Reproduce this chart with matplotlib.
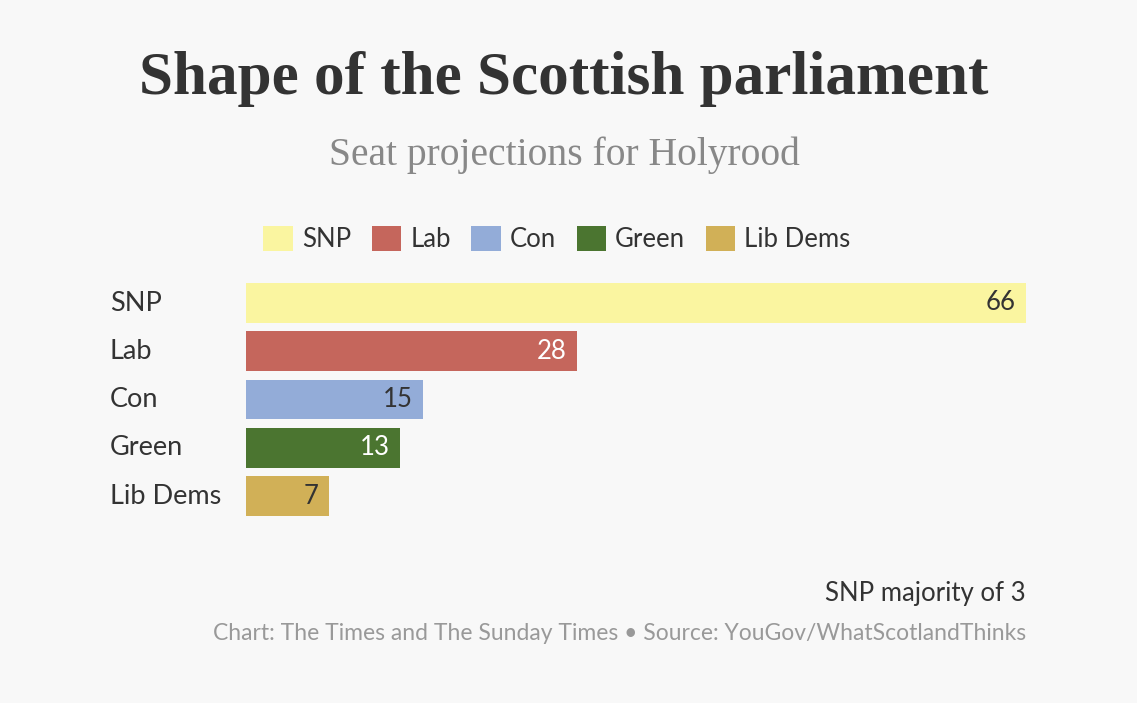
import matplotlib.pyplot as plt

parties = ["SNP", "Lab", "Con", "Green", "Lib Dems"]
seats = [66, 28, 15, 13, 7]
colours = ["#faf5a0", "#c5665c", "#93acd8", "#4b7530", "#d1b057"]
label_colours = ["#333333", "white", "#333333", "white", "#333333"]

bg = "#f8f8f8"
sans = ["Lato", "DejaVu Sans"]
serif = ["Liberation Serif", "DejaVu Serif"]

fig = plt.figure(figsize=(11.37, 7.03), dpi=100, facecolor=bg)
ax = fig.add_axes([246 / 1137, 0.2663, 780 / 1137, 0.3309])
ax.set_facecolor(bg)

bars = ax.barh(range(len(parties)), seats, height=0.82, color=colours)
ax.set_xlim(0, 66)
ax.set_ylim(4.41, -0.41)

for i, (v, c) in enumerate(zip(seats, label_colours)):
    ax.text(v - 0.85, i, str(v), ha="right", va="center", color=c,
            fontsize=18.5, family=sans)

for i, p in enumerate(parties):
    fig.text(110 / 1137, 1 - (303 + i * 48.3) / 703, p, ha="left", va="center",
             fontsize=19.5, color="#333333", family=sans)

ax.set_xticks([])
ax.set_yticks([])
for s in ax.spines.values():
    s.set_visible(False)

fig.text(564 / 1137, 1 - 79 / 703, "Shape of the Scottish parliament",
         ha="center", va="center", fontsize=44, fontweight="bold",
         color="#333333", family=serif)
fig.text(564 / 1137, 1 - 155 / 703, "Seat projections for Holyrood",
         ha="center", va="center", fontsize=28.5, color="#888888", family=serif)

leg = fig.legend(bars, parties, loc="center", bbox_to_anchor=(557 / 1137, 1 - 239 / 703),
                 ncol=5, frameon=False, handlelength=1.15, handleheight=1.15,
                 handletextpad=0.35, columnspacing=0.8,
                 prop={"family": sans, "size": 18.5})
for t in leg.get_texts():
    t.set_color("#333333")

fig.text(1026 / 1137, 1 - 593 / 703, "SNP majority of 3", ha="right", va="center",
         fontsize=18.5, color="#333333", family=sans)
fig.text(1026 / 1137, 1 - 634 / 703,
         "Chart: The Times and The Sunday Times \u2022 Source: YouGov/WhatScotlandThinks",
         ha="right", va="center", fontsize=16.5, color="#999999", family=sans)

fig.savefig("out.png", dpi=100, facecolor=bg)
